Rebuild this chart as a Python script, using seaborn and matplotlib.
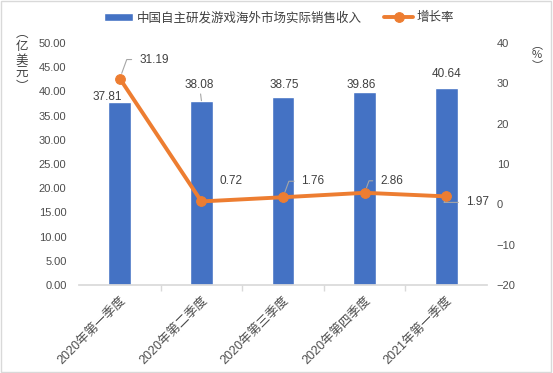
import numpy as np
import pandas as pd
import seaborn as sns
import matplotlib
matplotlib.use("Agg")
import matplotlib.pyplot as plt
from matplotlib.patches import Rectangle

# данные с картинки
quarters = ['2020年第一季度', '2020年第二季度', '2020年第三季度', '2020年第四季度', '2021年第一季度']
revenue = [37.81, 38.08, 38.75, 39.86, 40.64]
growth = [31.19, 0.72, 1.76, 2.86, 1.97]
bar_name = '中国自主研发游戏海外市场实际销售收入'
line_name = '增长率'

# сдвиги подписей (пиксели)
bar_lab_off = [(-13, 5), (-2, 16), (1, 12), (-3, 7), (0, 14)]
line_lab_off = [(34, 19), (30, 20), (30, 16), (27, 12), (31, -6)]
bar_leader = [False, True, False, False, False]
line_leader = [True, False, True, True, True]

sns.set_theme(style='white')
plt.rcParams['font.family'] = ['Liberation Sans', 'Noto Sans CJK SC', 'DejaVu Sans']

blue = '#4472C4'
orange = '#ED7D31'
txt = '#404040'
grey = '#4D4D4D'

df = pd.DataFrame({'quarter': quarters, 'revenue': revenue, 'growth': growth})

fig = plt.figure(figsize=(5.53, 3.73), dpi=100)
ax = fig.add_axes([0.1429, 0.2359, 0.8807 - 0.1429, 0.8847 - 0.2359])
sns.barplot(data=df, x='quarter', y='revenue', color=blue, width=0.28,
            saturation=1, ax=ax, label=bar_name)
ax.set_ylim(0, 50)
ax.set_yticks(np.arange(0, 50.1, 5))
ax.set_yticklabels([f'{v:.2f}' for v in np.arange(0, 50.1, 5)])
ax.set_xlim(-0.5, len(quarters) - 0.5)
ax.set_xlabel('')
ax.set_ylabel('')

ax2 = ax.twinx()
sns.lineplot(data=df, x='quarter', y='growth', color=orange, lw=2.8, marker='o',
             markersize=7, markeredgecolor=orange, sort=False, ax=ax2, label=line_name)
ax2.set_ylim(-20, 40)
ax2.set_yticks(np.arange(-20, 41, 10))
ax2.set_ylabel('')
ax2.set_xlim(-0.5, len(quarters) - 0.5)

for a in (ax, ax2):
    for s in a.spines.values():
        s.set_visible(False)
    a.grid(False)
ax.spines['bottom'].set_visible(True)
ax.spines['bottom'].set_color('#D9D9D9')

ax.tick_params(axis='y', length=0, pad=9, labelsize=8, labelcolor=grey)
ax2.tick_params(axis='y', length=0, pad=7, labelsize=8, labelcolor=grey)
ax.tick_params(axis='x', which='major', length=0, pad=7)
ax.set_xticks(np.arange(0.5, len(quarters) - 1, 1), minor=True)
ax.tick_params(axis='x', which='minor', length=4, color='#D9D9D9', bottom=True)
for lab in ax.get_xticklabels():
    lab.set_rotation(45)
    lab.set_ha('right')
    lab.set_va('top')
    lab.set_rotation_mode('anchor')
    lab.set_fontsize(9)
    lab.set_color(grey)

# подписи столбцов
for i, v in enumerate(revenue):
    ap = dict(arrowstyle='-', color='#A6A6A6', lw=0.8, shrinkA=0, shrinkB=0) if bar_leader[i] else None
    ax.annotate(f'{v:.2f}', (i, v), xytext=bar_lab_off[i], textcoords='offset pixels',
                ha='center', va='center', fontsize=8.5, color=txt,
                arrowprops=ap)

# подписи линии
for i, v in enumerate(growth):
    dx, dy = line_lab_off[i]
    ap = None
    if line_leader[i]:
        ap = dict(arrowstyle='-', color='#A6A6A6', lw=0.8, shrinkA=3, shrinkB=4,
                  relpos=(0, 0.5), connectionstyle='angle,angleA=0,angleB=70,rad=0')
    ax2.annotate(f'{v:.2f}', (i, v), xytext=(dx, dy), textcoords='offset pixels',
                 ha='center', va='center', fontsize=8.5, color=txt, arrowprops=ap)

# легенда
h1, l1 = ax.get_legend_handles_labels()
h2, l2 = ax2.get_legend_handles_labels()
if ax2.get_legend():
    ax2.get_legend().remove()
if ax.get_legend():
    ax.get_legend().remove()
fig.legend(h1 + h2, l1 + l2, loc='center', bbox_to_anchor=(0.505, 0.952), ncol=2,
           frameon=False, fontsize=9, handlelength=2.3, handleheight=0.6,
           columnspacing=1.8, handletextpad=0.3, labelcolor=txt)

# подписи осей (вертикально)
fig.text(22 / 553, 1 - 60 / 373, '︵\n亿\n美\n元\n︶', ha='center', va='center',
         fontsize=9, color=txt, linespacing=1.05, family=['Noto Sans CJK SC', 'DejaVu Sans'])
fig.text(537 / 553, 1 - 55 / 373, '︵\n%\n︶', ha='center', va='center',
         fontsize=8, color=txt, linespacing=1.0, family=['Noto Sans CJK SC', 'DejaVu Sans'])

fig.patches.append(Rectangle((0.002, 0.003), 0.995, 0.994, transform=fig.transFigure,
                             fill=False, edgecolor='#D9D9D9', lw=1))

fig.savefig('out.png', dpi=100, facecolor='white')
